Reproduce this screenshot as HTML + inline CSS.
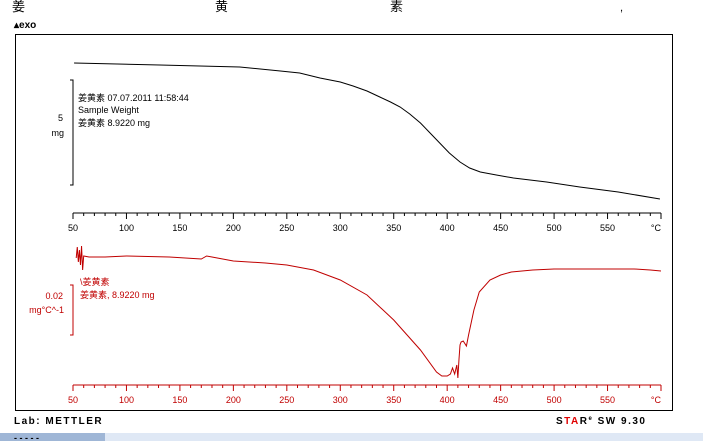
<!DOCTYPE html>
<html><head><meta charset="utf-8"><style>
body{margin:0;background:#fff;width:703px;height:441px;overflow:hidden;font-family:"Liberation Sans","Noto Sans CJK SC",sans-serif}
svg text{font-family:"Liberation Sans","Noto Sans CJK SC",sans-serif}
</style></head><body>
<svg id="c" width="703" height="441">
<text x="12" y="11" font-size="13">姜</text>
<text x="215" y="11" font-size="13">黄</text>
<text x="390" y="11" font-size="13">素</text>
<text x="620" y="11" font-size="11">,</text>
<text x="14" y="28" font-size="10" font-weight="bold">▴exo</text>
<rect x="15.5" y="34.5" width="657" height="376" fill="none" stroke="#000"/>
<g id="ax"></g>
<path d="M70,80 H73 V185 H70" fill="none" stroke="#000"/>
<text x="63" y="121" font-size="9" text-anchor="end">5</text>
<text x="64" y="136" font-size="9" text-anchor="end">mg</text>
<text x="78" y="101" font-size="9">姜黄素 07.07.2011 11:58:44</text>
<text x="78" y="113" font-size="9">Sample Weight</text>
<text x="78" y="126" font-size="9">姜黄素 8.9220 mg</text>
<path d="M70,285 H73 V335 H70" fill="none" stroke="#c00000"/>
<text x="63" y="299" font-size="9" fill="#c00000" text-anchor="end">0.02</text>
<text x="64" y="313" font-size="9" fill="#c00000" text-anchor="end">mg°C^-1</text>
<text x="80" y="285" font-size="9" fill="#c00000">\姜黄素</text>
<text x="80" y="298" font-size="9" fill="#c00000">姜黄素, 8.9220 mg</text>
<text x="14" y="424" font-size="10" font-weight="bold" letter-spacing="1.5">Lab:  METTLER</text>
<text x="556" y="424" font-size="10" font-weight="bold" letter-spacing="1.5">S<tspan fill="#e00000">TA</tspan>R<tspan font-size="6" dy="-4">e</tspan><tspan dy="4"> SW 9.30</tspan></text>
<rect x="0" y="433" width="703" height="8" fill="#dfe8f5"/>
<rect x="0" y="433" width="105" height="8" fill="#9fb6d6"/>
<text x="14" y="441" font-size="9" font-weight="bold">- - - - -</text>
</svg>
<script>
const ticks=[50,100,150,200,250,300,350,400,450,500,550];
const tgaT=[51,131,206,244,262,281,300,312,325,337,347,356,365,375,384,393,402,412,421,431,446,462,493,524,560,599];
const tgaW=[63,65,67,71,73,78,82,86,91,97,102,107,114,123,133,143,153,162,168,172,175,178,182,187,192,199];
const dtgT=[53,54,55,56,57,58,59,60,65,80,100,140,170,175,180,190,200,230,250,275,300,325,350,375,390,395,400,403,405,407,409,410,411,412,413,415,418,420,425,430,440,450,460,480,500,525,550,575,590,600];
const dtgV=[258,247,262,250,265,246,270,256,257,257,256,257,259,256,257,259,261,263,265,270,280,295,320,350,372,376,376,374,368,374,365,378,360,345,342,341,346,335,310,292,280,275,272,270,269,269,269,269,270,271];
const x=t=>73+(t-50)*(588/550);
const ns='http://www.w3.org/2000/svg';
const svg=document.getElementById('c'),ax=document.getElementById('ax');
function mk(tag,a,p){const e=document.createElementNS(ns,tag);for(const k in a)e.setAttribute(k,a[k]);(p||ax).appendChild(e);return e;}
function axis(y,col,nm){
 const l=mk('line',{x1:73,x2:661,y1:y,y2:y,stroke:col});
 
 
 for(let t=50;t<=600;t+=10){const mj=t%50===0;const tk=mk('line',{x1:x(t),x2:x(t),y1:y,y2:y+(mj?6:3),stroke:col});
 
 }
 ticks.forEach(t=>{const tx=mk('text',{x:x(t),y:y+18,'font-size':9,fill:col,'text-anchor':'middle'});tx.textContent=t;
 
 });
 const u=mk('text',{x:661,y:y+18,'font-size':9,fill:col,'text-anchor':'end'});u.textContent='°C';
 
 
}
axis(213,'#000','tga-x-axis');axis(385,'#c00000','dtg-x-axis');
const p1=mk('polyline',{points:tgaT.map((t,i)=>x(t)+','+tgaW[i]).join(' '),fill:'none',stroke:'#000','stroke-width':1});


const p2=mk('polyline',{points:dtgT.map((t,i)=>x(t)+','+dtgV[i]).join(' '),fill:'none',stroke:'#c00000','stroke-width':1});


</script>
</body></html>
